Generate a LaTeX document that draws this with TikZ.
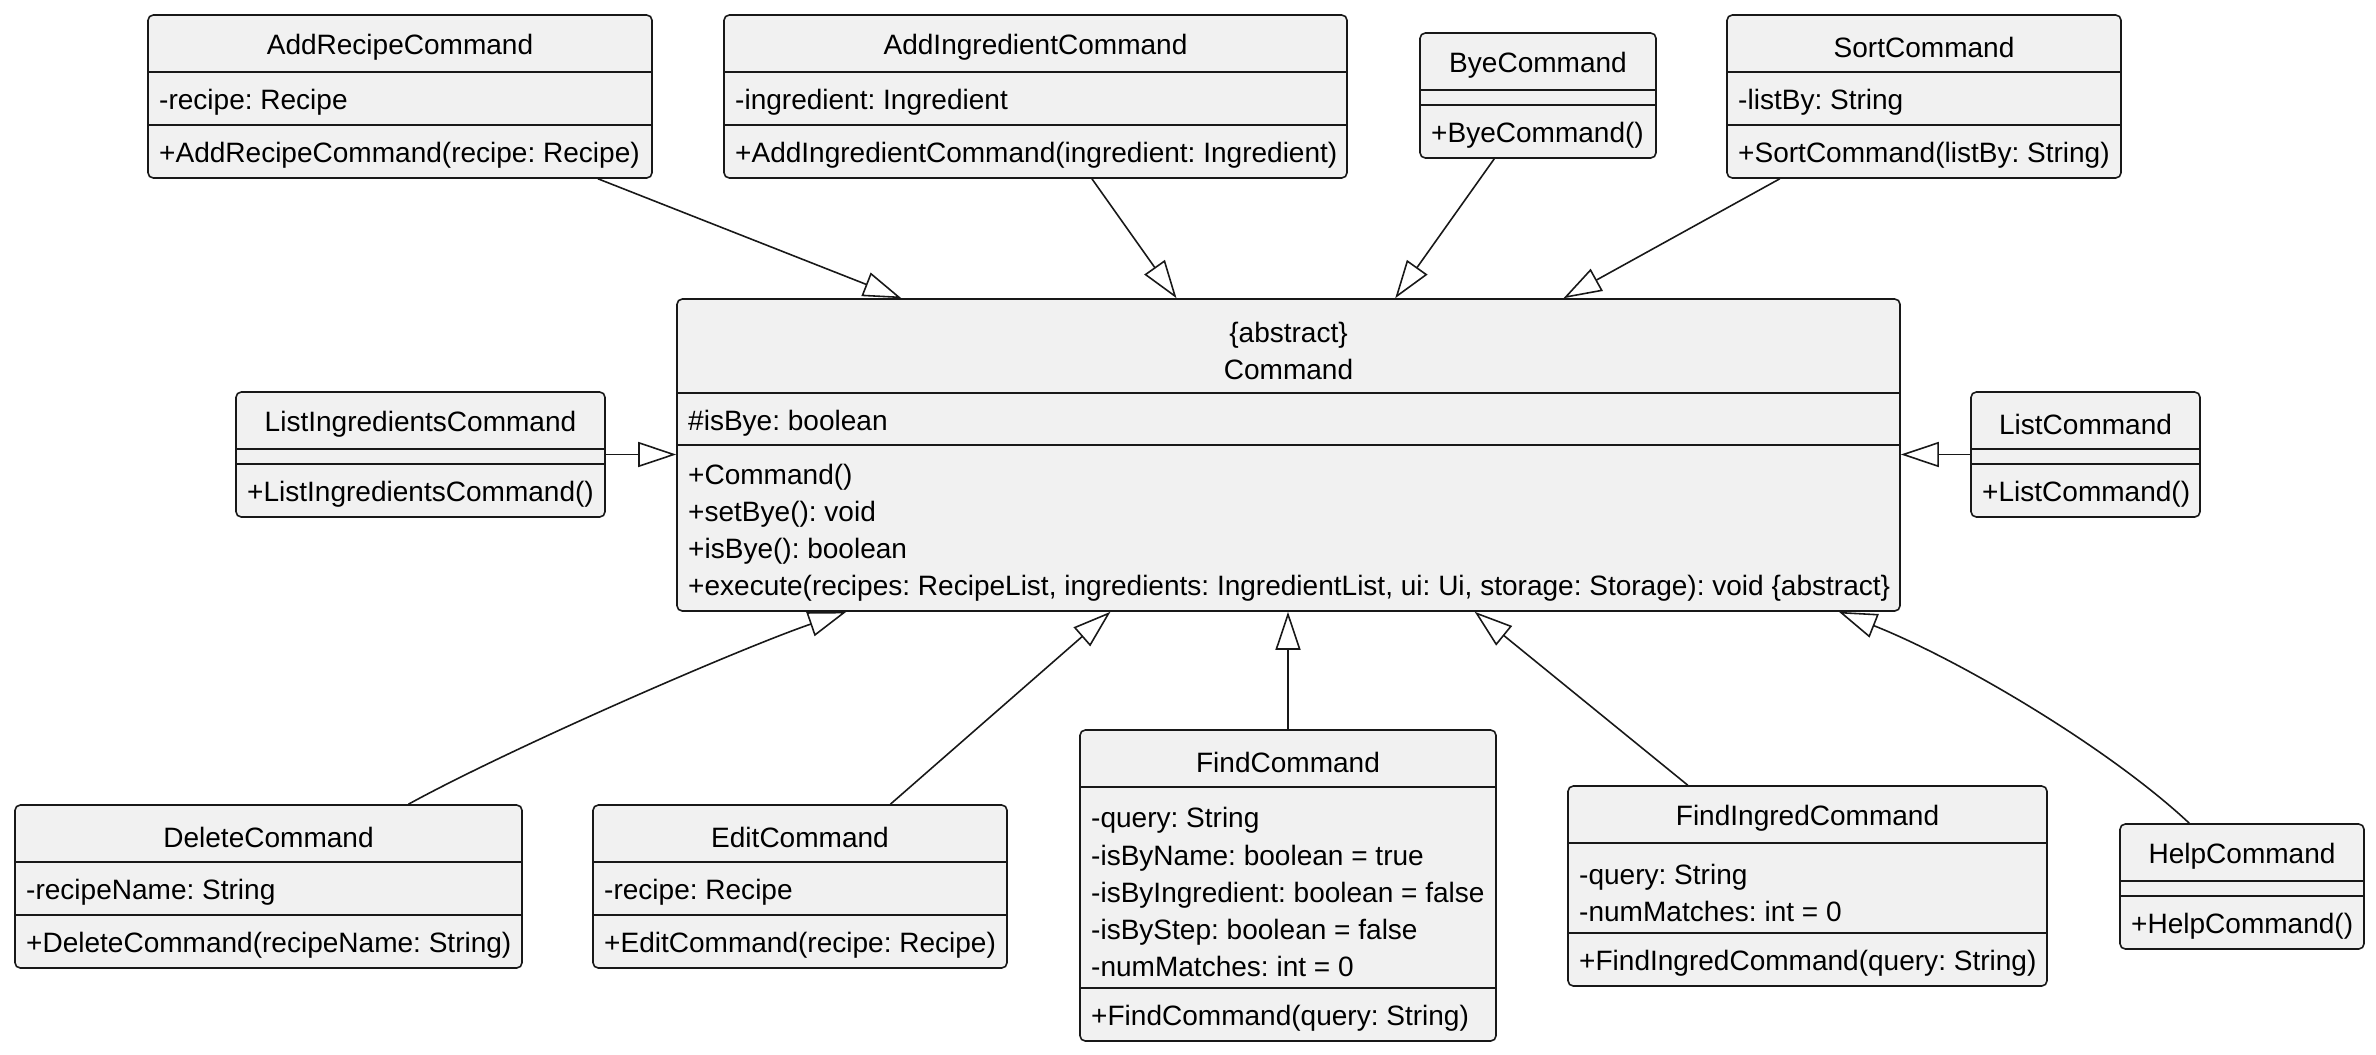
\documentclass[tikz,border=0pt]{standalone}
\usepackage{fontspec}
\setmainfont{Liberation Sans}
\usepackage{xcolor}
\usepackage{tikz}
\usetikzlibrary{arrows.meta, fit}
\definecolor{umlfill}{HTML}{F1F1F1}
\definecolor{umlline}{HTML}{181818}
\tikzstyle{classbox} = [draw=umlline, fill=umlfill, rounded corners=1.5pt, inner sep=0pt, line width=0.45pt]
\tikzstyle{sepline} = [draw=umlline, line width=0.45pt]
\tikzstyle{classname} = [inner sep=0pt, align=center, yshift=-0.03cm]
\tikzstyle{member} = [anchor=west, inner sep=0pt, align=left, yshift=-0.03cm]
\tikzstyle{extends} = [draw=umlline, line width=0.45pt, -{Triangle[open, length=0.38cm, width=0.25cm]}]

\begin{document}
\frenchspacing
\begin{tikzpicture}[x=0.01cm, y=-0.01cm, font=\fontsize{7.97}{10.53}\selectfont\frenchspacing]
\fill[white] (0,0) rectangle (2376,1054);
\useasboundingbox (0,0) rectangle (2376,1054);

% top row
\node[classbox, fit={(148,15) (652,178)}] (addrecipe) {};
\draw[sepline] (148,72) -- (652,72);
\draw[sepline] (148,125) -- (652,125);
\node[classname] (addrecipe-name) at (400,44) {AddRecipeCommand};
\node[member] (addrecipe-attr) at (158.5,99) {-recipe: Recipe};
\node[member] (addrecipe-meth) at (158.5,152) {+AddRecipeCommand(recipe: Recipe)};

\node[classbox, fit={(724,15) (1347,178)}] (addingred) {};
\draw[sepline] (724,72) -- (1347,72);
\draw[sepline] (724,125) -- (1347,125);
\node[classname] (addingred-name) at (1035.5,44) {AddIngredientCommand};
\node[member] (addingred-attr) at (734.5,99) {-ingredient: Ingredient};
\node[member] (addingred-meth) at (734.5,152) {+AddIngredientCommand(ingredient: Ingredient)};

\node[classbox, fit={(1420,33) (1656,158)}] (bye) {};
\draw[sepline] (1420,90) -- (1656,90);
\draw[sepline] (1420,105) -- (1656,105);
\node[classname] (bye-name) at (1538,62) {ByeCommand};
\node[member] (bye-meth) at (1430.5,132) {+ByeCommand()};

\node[classbox, fit={(1727,15) (2121,178)}] (sort) {};
\draw[sepline] (1727,72) -- (2121,72);
\draw[sepline] (1727,125) -- (2121,125);
\node[classname] (sort-name) at (1924,44) {SortCommand};
\node[member] (sort-attr) at (1737.5,99) {-listBy: String};
\node[member] (sort-meth) at (1737.5,152) {+SortCommand(listBy: String)};

% abstract parent
\node[classbox, fit={(677,299) (1900,611)}] (command) {};
\draw[sepline] (677,393) -- (1900,393);
\draw[sepline] (677,445) -- (1900,445);
\node[classname] (command-name) at (1288.5,348) {\{abstract\}\\Command};
\node[member] (command-attr) at (687.5,420) {\#isBye: boolean};
\node[member] (command-meth) at (687.5,530) {+Command()\\+setBye(): void\\+isBye(): boolean\\+execute(recipes: RecipeList, ingredients: IngredientList, ui: Ui, storage: Storage): void \{abstract\}};

% side classes
\node[classbox, fit={(236,392) (605,517)}] (listingred) {};
\draw[sepline] (236,449) -- (605,449);
\draw[sepline] (236,464) -- (605,464);
\node[classname] (listingred-name) at (420.5,421) {ListIngredientsCommand};
\node[member] (listingred-meth) at (246.5,491) {+ListIngredientsCommand()};

\node[classbox, fit={(1971,392) (2200,517)}] (listcmd) {};
\draw[sepline] (1971,449) -- (2200,449);
\draw[sepline] (1971,464) -- (2200,464);
\node[classname] (listcmd-name) at (2085.5,421) {ListCommand};
\node[member] (listcmd-meth) at (1981.5,491) {+ListCommand()};

% bottom row
\node[classbox, fit={(15,805) (522,968)}] (delete) {};
\draw[sepline] (15,862) -- (522,862);
\draw[sepline] (15,915) -- (522,915);
\node[classname] (delete-name) at (268.5,834) {DeleteCommand};
\node[member] (delete-attr) at (25.5,889) {-recipeName: String};
\node[member] (delete-meth) at (25.5,942) {+DeleteCommand(recipeName: String)};

\node[classbox, fit={(593,805) (1007,968)}] (edit) {};
\draw[sepline] (593,862) -- (1007,862);
\draw[sepline] (593,915) -- (1007,915);
\node[classname] (edit-name) at (800,834) {EditCommand};
\node[member] (edit-attr) at (603.5,889) {-recipe: Recipe};
\node[member] (edit-meth) at (603.5,942) {+EditCommand(recipe: Recipe)};

\node[classbox, fit={(1080,730) (1496,1041)}] (find) {};
\draw[sepline] (1080,787) -- (1496,787);
\draw[sepline] (1080,988) -- (1496,988);
\node[classname] (find-name) at (1288,759) {FindCommand};
\node[member] (find-attr) at (1090.5,889) {-query: String\\-isByName: boolean = true\\-isByIngredient: boolean = false\\-isByStep: boolean = false\\-numMatches: int = 0};
\node[member] (find-meth) at (1090.5,1015) {+FindCommand(query: String)};

\node[classbox, fit={(1568,786) (2047,986)}] (findingred) {};
\draw[sepline] (1568,843) -- (2047,843);
\draw[sepline] (1568,933) -- (2047,933);
\node[classname] (findingred-name) at (1807.5,815) {FindIngredCommand};
\node[member] (findingred-attr) at (1578.5,890) {-query: String\\-numMatches: int = 0};
\node[member] (findingred-meth) at (1578.5,960) {+FindIngredCommand(query: String)};

\node[classbox, fit={(2120,824) (2364,949)}] (help) {};
\draw[sepline] (2120,881) -- (2364,881);
\draw[sepline] (2120,896) -- (2364,896);
\node[classname] (help-name) at (2242,853) {HelpCommand};
\node[member] (help-meth) at (2130.5,923) {+HelpCommand()};

% inheritance
\draw[extends] ([xshift=4.505cm]addrecipe.south west) -- ([xshift=2.25cm]command.north west);
\draw[extends] ([xshift=3.685cm]addingred.south west) -- ([xshift=5.0cm]command.north west);
\draw[extends] ([xshift=0.75cm]bye.south west) -- ([xshift=7.186cm]command.north west);
\draw[extends] ([xshift=0.535cm]sort.south west) -- ([xshift=8.868cm]command.north west);
\draw[extends] (listingred.east) -- (listingred.east -| command.west);
\draw[extends] (listcmd.west) -- (listcmd.west -| command.east);
\draw[extends] ([xshift=3.94cm]delete.north west) .. controls +(100,-55) and +(-110,38) .. ([xshift=1.70cm]command.south west);
\draw[extends] ([xshift=2.98cm]edit.north west) -- ([xshift=4.34cm]command.south west);
\draw[extends] (find.north) -- (find.north |- command.south);
\draw[extends] ([xshift=1.205cm]findingred.north west) -- ([xshift=7.98cm]command.south west);
\draw[extends] ([xshift=0.70cm]help.north west) .. controls +(-80,-75) and +(121,48) .. ([xshift=11.62cm]command.south west);
\end{tikzpicture}
\end{document}
